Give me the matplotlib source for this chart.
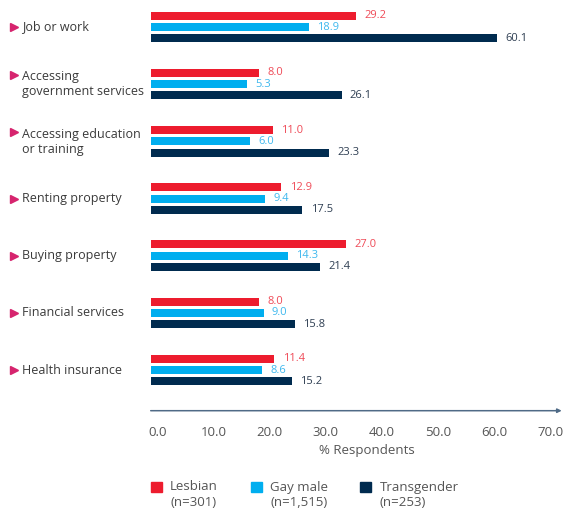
import matplotlib
matplotlib.use("Agg")
import matplotlib.pyplot as plt
import matplotlib.transforms as mtransforms
from matplotlib.patches import Rectangle

categories = ["Job or work", "Accessing\ngovernment services", "Accessing education\nor training",
              "Renting property", "Buying property", "Financial services", "Health insurance"]
lesbian = [29.2, 8.0, 11.0, 12.9, 27.0, 8.0, 11.4]
gay_male = [18.9, 5.3, 6.0, 9.4, 14.3, 9.0, 8.6]
transgender = [60.1, 26.1, 23.3, 17.5, 21.4, 15.8, 15.2]
series_names = ["Lesbian\n(n=301)", "Gay male\n(n=1,515)", "Transgender\n(n=253)"]
x_ticks = [0, 10, 20, 30, 40, 50, 60, 70]
x_label = "% Respondents"

colors = ["#ED1C2E", "#00AEEF", "#002B4F"]
text_colors = ["#EF4A57", "#3DB8EE", "#2E3E52"]
tri_color = "#D6246E"
txt = "#3A3A3A"
FONT = "Open Sans"

W, H = 563, 508
fig = plt.figure(figsize=(W / 100, H / 100), dpi=100)
fig.patch.set_facecolor("white")

def fx(px):
    return px / W

def fy(py):
    return 1 - py / H

# bar axes (pixel layout: x from 151 to 561, y from 0 to 400)
BAR_START = -15.68     # visual offset of bar origin in reference
PX_PER_UNIT = 4.56
left_px, right_px = 151, 561
top_px, bot_px = 0, 400
ax = fig.add_axes([fx(left_px), fy(bot_px), fx(right_px - left_px), (bot_px - top_px) / H])
ax.set_xlim(BAR_START, BAR_START + (right_px - left_px) / PX_PER_UNIT)
pitch = 57.17
first = 27
ax.set_ylim((bot_px - first) / pitch, (top_px - first) / pitch)
ax.axis("off")

bh = 8 / pitch
off = 11.3 / pitch
series = [lesbian, gay_male, transgender]
for k, vals in enumerate(series):
    for i, v in enumerate(vals):
        y = i + (k - 1) * off
        ax.barh(y, v - BAR_START, left=BAR_START, height=bh, color=colors[k], edgecolor="none")
        ax.annotate(f"{v:.1f}", xy=(v, y), xytext=(6, 0), textcoords="offset points",
                    va="center", ha="left", fontsize=8, color=text_colors[k], family=FONT)

# category labels
trans = mtransforms.blended_transform_factory(fig.transFigure, ax.transData)
for i, c in enumerate(categories):
    multi = "\n" in c
    ax.text(fx(22), i + (0.005 if multi else 0), c, transform=trans, ha="left", va="center",
            fontsize=9, color=txt, family=FONT, linespacing=1.2)
    ty = i - (0.155 if multi else 0)
    ax.plot([fx(14)], [ty], marker=">", markersize=5.5, color=tri_color, transform=trans,
            clip_on=False, linestyle="none")

# tick axis
axis_y = 410.7
ax2 = fig.add_axes([fx(150.7), fy(axis_y), fx(561.7 - 150.7), 0.0001])
tick_ppu = 5.61
ax2.set_xlim((150.7 - 157.3) / tick_ppu, (561.7 - 157.3) / tick_ppu)
for s in ["top", "left", "right", "bottom"]:
    ax2.spines[s].set_visible(False)
ax2.set_yticks([])
ax2.set_xticks(x_ticks)
ax2.set_xticklabels([f"{t:.1f}" for t in x_ticks], fontsize=9.5, color="#555555", family=FONT)
ax2.tick_params(axis="x", length=0, pad=11)
ax2.annotate("", xy=(1, 0), xytext=(0, 0), xycoords="axes fraction", textcoords="axes fraction",
             arrowprops=dict(arrowstyle="-|>", color="#4F6A86", lw=1.1, mutation_scale=6,
                             shrinkA=0, shrinkB=0))
fig.text(fx(367), fy(450.7), x_label, ha="center", va="center", fontsize=9.5,
         color="#555555", family=FONT)

# legend
leg_x = [150.7, 250.7, 360]
for k, name in enumerate(series_names):
    fig.patches.append(Rectangle((fx(leg_x[k]), fy(492)), fx(11), 10.5 / H,
                                 transform=fig.transFigure, color=colors[k]))
    fig.text(fx(leg_x[k] + 19.5), fy(480.5), name, ha="left", va="top", fontsize=9.5,
             color="#555555", family=FONT, linespacing=1.2)

fig.savefig("out.png", dpi=100)
